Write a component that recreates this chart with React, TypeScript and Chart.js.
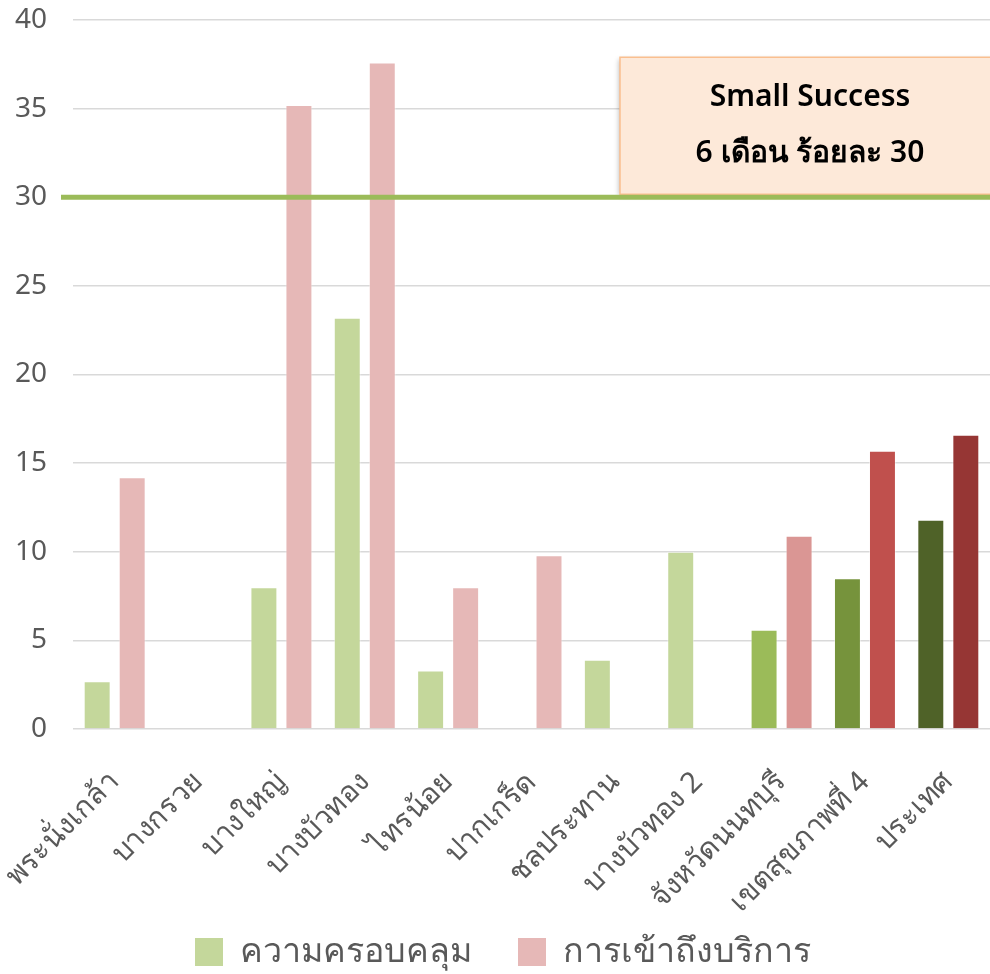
import React, { useEffect, useRef } from "react";
import { Chart, registerables } from "chart.js";

Chart.register(...registerables);

const categories = [
  "พระนั่งเกล้า",
  "บางกรวย",
  "บางใหญ่",
  "บางบัวทอง",
  "ไทรน้อย",
  "ปากเกร็ด",
  "ชลประทาน",
  "บางบัวทอง 2",
  "จังหวัดนนทบุรี",
  "เขตสุขภาพที่ 4",
  "ประเทศ",
];

const coverage = [2.7, 0, 8.0, 23.2, 3.3, 0, 3.9, 10.0, 5.6, 8.5, 11.8];
const access = [14.2, 0, 35.2, 37.6, 8.0, 9.8, 0, 0, 10.9, 15.7, 16.6];

const coverageColors = [
  "#c4d79b", "#c4d79b", "#c4d79b", "#c4d79b", "#c4d79b", "#c4d79b",
  "#c4d79b", "#c4d79b", "#9bbb59", "#76933c", "#4f6228",
];
const accessColors = [
  "#e6b8b7", "#e6b8b7", "#e6b8b7", "#e6b8b7", "#e6b8b7", "#e6b8b7",
  "#e6b8b7", "#e6b8b7", "#da9694", "#c0504d", "#963634",
];

const seriesNames = ["ความครอบคลุม", "การเข้าถึงบริการ"];
const targetValue = 30;
const boxLines = ["Small Success", "6 เดือน ร้อยละ 30"];

const FONT = "'Noto Sans', 'DejaVu Sans', sans-serif";

const targetPlugin = {
  id: "targetPlugin",
  afterLayout(chart: any) {
    if (chart.legend) {
      chart.legend.left += 6;
      chart.legend.right += 6;
    }
    // let rotated category labels extend below the axis box without clipping
    if (chart.scales.x) chart.scales.x.bottom = chart.height;
  },
  afterDatasetsDraw(chart: any) {
    const { ctx, chartArea, scales } = chart;
    const yLine = scales.y.getPixelForValue(targetValue);
    // annotation box
    const left = chartArea.right - 370;
    const top = yLine - 140;
    const bottom = yLine - 3;
    const right = chartArea.right + 10;
    ctx.save();
    ctx.shadowColor = "rgba(0,0,0,0.28)";
    ctx.shadowBlur = 5;
    ctx.shadowOffsetX = -1;
    ctx.shadowOffsetY = 2;
    ctx.fillStyle = "#fde9d9";
    ctx.fillRect(left, top, right - left, bottom - top);
    ctx.shadowColor = "transparent";
    ctx.strokeStyle = "#fabf8f";
    ctx.lineWidth = 1.5;
    ctx.strokeRect(left, top, right - left, bottom - top);
    ctx.fillStyle = "#000000";
    ctx.textAlign = "center";
    ctx.textBaseline = "middle";
    ctx.font = `600 30px ${FONT}`;
    const cx = left + 190;
    ctx.fillText(boxLines[0], cx, top + 40);
    ctx.fillText(boxLines[1], cx, top + 96);
    ctx.restore();
    // target line
    ctx.save();
    ctx.strokeStyle = "#9bbb59";
    ctx.lineWidth = 5;
    ctx.beginPath();
    ctx.moveTo(chartArea.left - 12, yLine);
    ctx.lineTo(chartArea.right, yLine);
    ctx.stroke();
    ctx.restore();
  },
};

export default function App() {
  const ref = useRef<HTMLCanvasElement | null>(null);
  useEffect(() => {
    document.body.style.margin = "0";
    const canvas = ref.current!;
    const chart = new Chart(canvas, {
      type: "bar",
      data: {
        labels: categories,
        datasets: [
          {
            label: seriesNames[0],
            data: coverage,
            backgroundColor: coverageColors,
            borderColor: "rgba(255,255,255,0.45)",
            borderWidth: 1,
          },
          {
            label: seriesNames[1],
            data: access,
            backgroundColor: accessColors,
            borderColor: "rgba(255,255,255,0.45)",
            borderWidth: 1,
          },
        ],
      },
      options: {
        responsive: false,
        animation: false,
        maintainAspectRatio: false,
        datasets: { bar: { categoryPercentage: 0.84, barPercentage: 0.77 } },
        layout: { padding: { top: 0, right: 0, left: 4, bottom: -5 } },
        plugins: {
          legend: {
            position: "bottom",
            labels: {
              color: "#595959",
              font: { size: 34, family: FONT },
              boxWidth: 28,
              boxHeight: 28,
              padding: 46,
              generateLabels: () =>
                seriesNames.map((n, i) => ({
                  text: n,
                  fillStyle: i === 0 ? "#c4d79b" : "#e6b8b7",
                  strokeStyle: "transparent",
                  lineWidth: 0,
                  datasetIndex: i,
                  fontColor: "#595959",
                })),
            },
          },
          tooltip: { enabled: false },
        },
        scales: {
          x: {
            afterFit: (s: any) => {
              s.paddingLeft = 0;
              s.paddingRight = 0;
              s.height = 160;
            },
            grid: { display: false },
            border: { display: false },
            ticks: {
              color: "#595959",
              font: { size: 29, family: FONT },
              minRotation: 45,
              maxRotation: 45,
              autoSkip: false,
              padding: 28,
            },
          },
          y: {
            min: 0,
            max: 40,
            afterFit: (s: any) => {
              s.width = 69;
              s.paddingTop = 20;
              s.paddingBottom = 10;
            },
            grid: { color: "#d9d9d9", lineWidth: 1.5, drawTicks: false },
            border: { display: false },
            ticks: {
              stepSize: 5,
              color: "#595959",
              font: { size: 28, family: FONT },
              padding: 26,
            },
          },
        },
      },
      plugins: [targetPlugin],
    });
    return () => chart.destroy();
  }, []);
  return <canvas ref={ref} width={990} height={974} style={{ display: "block" }} />;
}
